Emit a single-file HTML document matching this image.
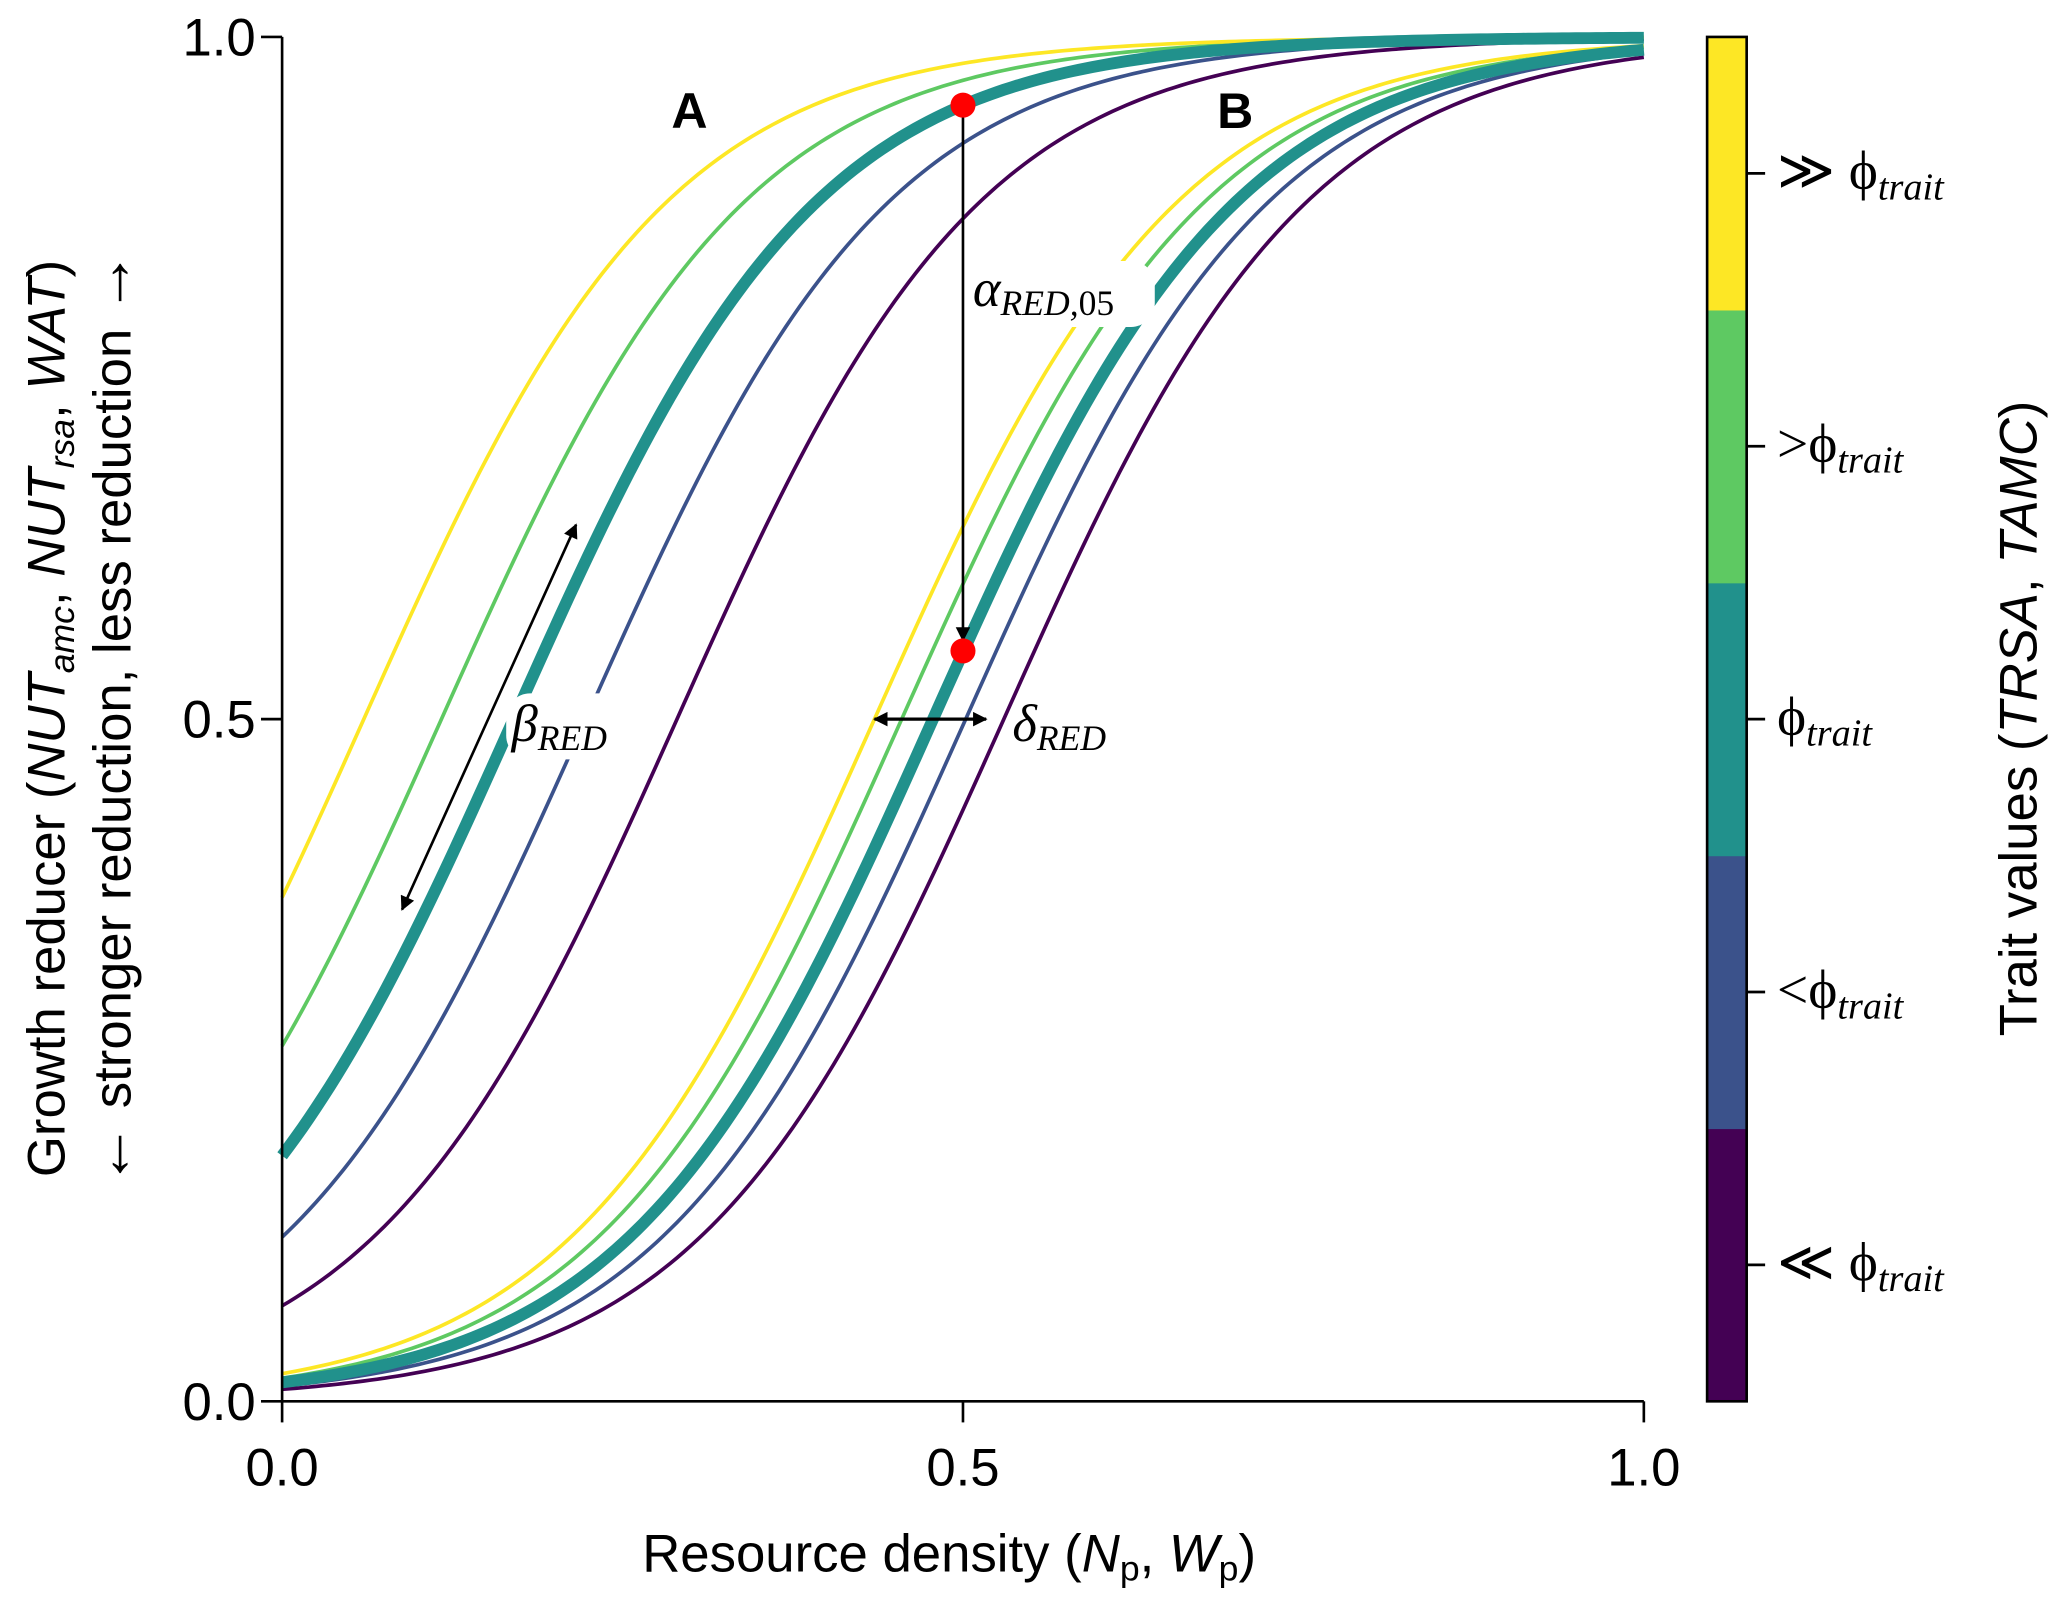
<!DOCTYPE html>
<html><head><meta charset="utf-8"><style>
html,body{margin:0;padding:0;background:#fff;}
svg{display:block;}
.t{font-family:"Liberation Sans",sans-serif;fill:#000;}
.m{font-family:"Liberation Serif",serif;font-style:italic;fill:#000;}
</style></head><body>
<svg id="chart" width="2067" height="1600" viewBox="0 0 1568 1213.7">
<defs>
<marker id="ah" viewBox="0 0 10 10" refX="9" refY="5" markerWidth="12" markerHeight="11" markerUnits="userSpaceOnUse" orient="auto-start-reverse"><path d="M0,0 L10,5 L0,10 z" fill="#000"/></marker>
</defs>
<g id="curves"></g>
<g id="overlay"></g>
</svg>
<script>
const traitNames = ["much-lower","lower","reference","higher","much-higher"];
const colors = ["#440154","#3b528b","#21918c","#5ec962","#fde725"];
const slopeK = 8.92;
const midA = [0.29, 0.223, 0.17, 0.117, 0.06];
const midB = [0.53, 0.502, 0.478, 0.455, 0.435];
const xTicks = [0, 0.5, 1];
const yTicks = [0, 0.5, 1];
const xTickLabels = ["0.0","0.5","1.0"];
const yTickLabels = ["0.0","0.5","1.0"];
const cbLabels = ["≪ ϕ","<ϕ","ϕ",">ϕ","≫ ϕ"];
const redPoints = [[0.5,0.95],[0.5,0.55]];

const X0=214,X1=1247,Y0=1063,Y1=28;
const sx=v=>X0+(X1-X0)*v, sy=v=>Y0-(Y0-Y1)*v;
const NS="http://www.w3.org/2000/svg";
const cg=document.getElementById('curves');
const og=document.getElementById('overlay');
function mk(tag,attrs,parent){const e=document.createElementNS(NS,tag);for(const k in attrs)e.setAttribute(k,attrs[k]);(parent||og).appendChild(e);return e;}
const logi=(x,m)=>1/(1+Math.exp(-slopeK*(x-m)));

function curve(m,i,grp){
  let d="";
  for(let j=0;j<=200;j++){const x=j/200;d+=(j?"L":"M")+sx(x).toFixed(2)+","+sy(logi(x,m)).toFixed(2);}
  const p=mk('path',{d:d,fill:"none",stroke:colors[i],"stroke-width":i==2?9:2.8,"stroke-linecap":"butt"},cg);
  
  
}
[0,1,3,4,2].forEach(i=>{curve(midA[i],i,'a');curve(midB[i],i,'b');});

let ax=mk('line',{x1:X0,y1:Y1,x2:X0,y2:Y0+1,stroke:"#000","stroke-width":2});

ax=mk('line',{x1:X0-1,y1:Y0,x2:X1,y2:Y0,stroke:"#000","stroke-width":2});

xTicks.forEach((v,i)=>{
  mk('line',{x1:sx(v),y1:Y0,x2:sx(v),y2:Y0+16,stroke:"#000","stroke-width":2});
  const t=mk('text',{x:sx(v),y:Y0+64,"font-size":40,"text-anchor":"middle",class:"t"});
  t.textContent=xTickLabels[i];
  
});
yTicks.forEach((v,i)=>{
  mk('line',{x1:X0-16,y1:sy(v),x2:X0,y2:sy(v),stroke:"#000","stroke-width":2});
  const t=mk('text',{x:X0-20,y:sy(v)+14,"font-size":40,"text-anchor":"end",class:"t"});
  t.textContent=yTickLabels[i];
  
});

let a=mk('line',{x1:305,y1:690,x2:437,y2:398,stroke:"#000","stroke-width":2,"marker-start":"url(#ah)","marker-end":"url(#ah)"});

mk('rect',{x:384,y:526,width:100,height:50,rx:18,fill:"#fff"});
let t=mk('text',{x:388,y:562,"font-size":40,class:"m"});t.innerHTML='β<tspan font-size="27" dy="7">RED</tspan>';


a=mk('line',{x1:sx(redPoints[0][0]),y1:sy(redPoints[0][1]),x2:sx(redPoints[1][0]),y2:sy(redPoints[1][1])-8,stroke:"#000","stroke-width":2,"marker-end":"url(#ah)"});

mk('rect',{x:734,y:198,width:142,height:50,rx:18,fill:"#fff"});
t=mk('text',{x:738,y:232,"font-size":40,class:"m"});t.innerHTML='α<tspan font-size="27" dy="7">RED,</tspan><tspan font-size="27" font-style="normal">05</tspan>';


a=mk('line',{x1:sx(midB[4]),y1:sy(0.5),x2:sx(0.517),y2:sy(0.5),stroke:"#000","stroke-width":2.5,"marker-start":"url(#ah)","marker-end":"url(#ah)"});

t=mk('text',{x:768,y:562,"font-size":40,class:"m"});t.innerHTML='δ<tspan font-size="27" dy="7">RED</tspan>';


redPoints.forEach((p,i)=>{const c=mk('circle',{cx:sx(p[0]),cy:sy(p[1]),r:9.5,fill:"#ff0000"});
});

t=mk('text',{x:523,y:97,"font-size":38,"font-weight":"bold","text-anchor":"middle",class:"t"});t.textContent="A";

t=mk('text',{x:937,y:97,"font-size":38,"font-weight":"bold","text-anchor":"middle",class:"t"});t.textContent="B";


t=mk('text',{x:720,y:1192,"font-size":40,"text-anchor":"middle",class:"t"});
t.innerHTML='Resource density (<tspan font-style="italic">N</tspan><tspan font-size="27" dy="7">p</tspan><tspan dy="-7">, </tspan><tspan font-style="italic">W</tspan><tspan font-size="27" dy="7">p</tspan><tspan dy="-7">)</tspan>';

t=mk('text',{x:0,y:0,"font-size":40,"text-anchor":"middle",class:"t",transform:"translate(49,545) rotate(-90)"});
t.innerHTML='Growth reducer (<tspan font-style="italic">NUT</tspan><tspan font-size="27" font-style="italic" dy="7">amc</tspan><tspan dy="-7">, </tspan><tspan font-style="italic">NUT</tspan><tspan font-size="27" font-style="italic" dy="7">rsa</tspan><tspan dy="-7">, </tspan><tspan font-style="italic">WAT</tspan>)';

t=mk('text',{x:0,y:0,"font-size":40,"text-anchor":"middle",class:"t",transform:"translate(99,545) rotate(-90)"});
t.innerHTML='<tspan font-size="48">←</tspan> stronger reduction, less reduction <tspan font-size="48">→</tspan>';


const CB0=1295,CB1=1325;const segH=(Y0-Y1)/5;
colors.forEach((c,i)=>{
  const r=mk('rect',{x:CB0,y:Y0-(i+1)*segH,width:CB1-CB0,height:segH+0.5,fill:c});
  
  const yc=Y0-(i+0.5)*segH;
  mk('line',{x1:CB1,y1:yc,x2:CB1+14,y2:yc,stroke:"#000","stroke-width":2});
  const tl=mk('text',{x:1348,y:yc+12,"font-size":42,class:"m"});
  tl.innerHTML='<tspan font-style="normal">'+cbLabels[i]+'</tspan><tspan font-size="29" dy="8">trait</tspan>';
  
});
let cb=mk('rect',{x:CB0,y:Y1,width:CB1-CB0,height:Y0-Y1,fill:"none",stroke:"#000","stroke-width":2});

t=mk('text',{x:0,y:0,"font-size":40,"text-anchor":"middle",class:"t",transform:"translate(1545,545) rotate(-90)"});
t.innerHTML='Trait values (<tspan font-style="italic">TRSA</tspan>, <tspan font-style="italic">TAMC</tspan>)';

</script>
</body></html>
